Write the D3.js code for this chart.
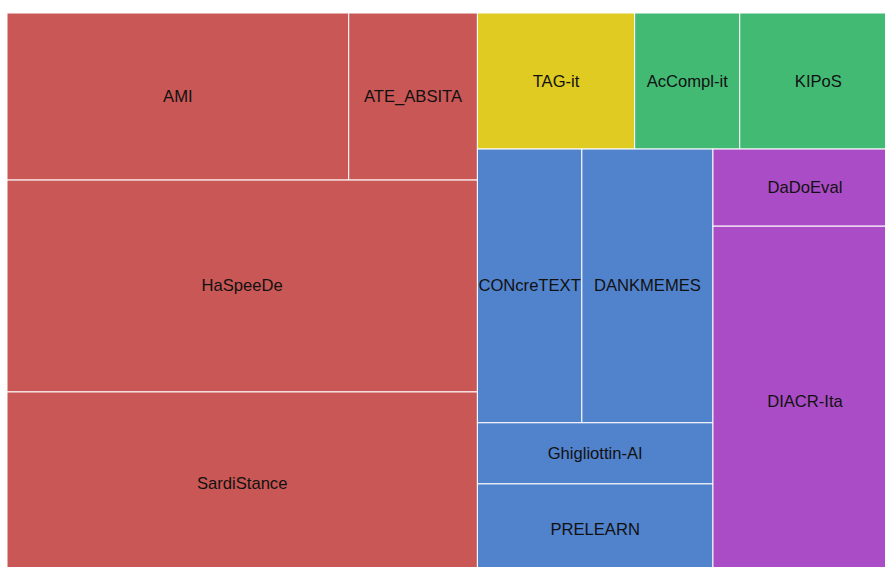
<html>
<head>
	<style type="text/css">
		body { margin: 0; background: #fff; }
		rect.cell { stroke: #fff; stroke-width: 1; }
		text.label {
			font-family: Arial, "Liberation Sans", Helvetica, sans-serif;
			font-size: 16.6px;
			fill: #111;
		}
	</style>
	<script src="https://d3js.org/d3.v7.min.js"></script>
</head>
<body>
<script type="text/javascript">

	// groups (tracks) and their colours
	var groups = ["affect", "profiling", "longstanding", "semantics", "diachrony"];
	var groupColors = ["#c95755", "#dfcb21", "#43ba74", "#5182cc", "#aa4cc5"];

	// tasks, the group each belongs to, and its size
	var tasks = ["AMI", "ATE_ABSITA", "HaSpeeDe", "SardiStance",
				 "TAG-it",
				 "AcCompl-it", "KIPoS",
				 "CONcreTEXT", "DANKMEMES", "Ghigliottin-AI", "PRELEARN",
				 "DaDoEval", "DIACR-Ita"];
	var taskGroups = ["affect", "affect", "affect", "affect",
					  "profiling",
					  "longstanding", "longstanding",
					  "semantics", "semantics", "semantics", "semantics",
					  "diachrony", "diachrony"];
	var taskValues = [57.1, 21.5, 99.7, 86.6,
					  21.4,
					  14.3, 21.4,
					  28.6, 35.9, 14.4, 21.7,
					  14.2, 64.4];

	function draw() {
		var left = 7, top = 13, right = 897, bottom = 576;

		var color = d3.scaleOrdinal().domain(groups).range(groupColors);

		var tree = {
			name: "root",
			children: groups.map(function(g) {
				return {
					name: g,
					children: tasks
						.map(function(t, i) { return {name: t, group: taskGroups[i], value: taskValues[i]}; })
						.filter(function(d) { return d.group === g; })
				};
			})
		};

		var root = d3.hierarchy(tree).sum(function(d) { return d.value || 0; });

		d3.treemap()
			.tile(d3.treemapSquarify)
			.size([right - left, bottom - top])
			(root);

		var svg = d3.select("body")
			.append("svg")
				.attr("width", 885)
				.attr("height", 567);

		var cell = svg.append("g")
				.attr("transform", "translate(" + left + "," + top + ")")
			.selectAll("g.leaf")
			.data(root.leaves())
			.enter()
			.append("g")
				.attr("class", "leaf");

		cell.append("rect")
			.attr("class", "cell")
			.attr("x", function(d) { return d.x0; })
			.attr("y", function(d) { return d.y0; })
			.attr("width", function(d) { return d.x1 - d.x0; })
			.attr("height", function(d) { return d.y1 - d.y0; })
			.attr("fill", function(d) { return color(d.data.group); });

		cell.append("text")
			.attr("class", "label")
			.attr("x", function(d) { return (d.x0 + d.x1) / 2; })
			.attr("y", function(d) { return (d.y0 + d.y1) / 2; })
			.attr("text-anchor", "middle")
			.attr("dominant-baseline", "central")
			.text(function(d) { return d.data.name; });
	}

	draw();

</script>
</body>
</html>
